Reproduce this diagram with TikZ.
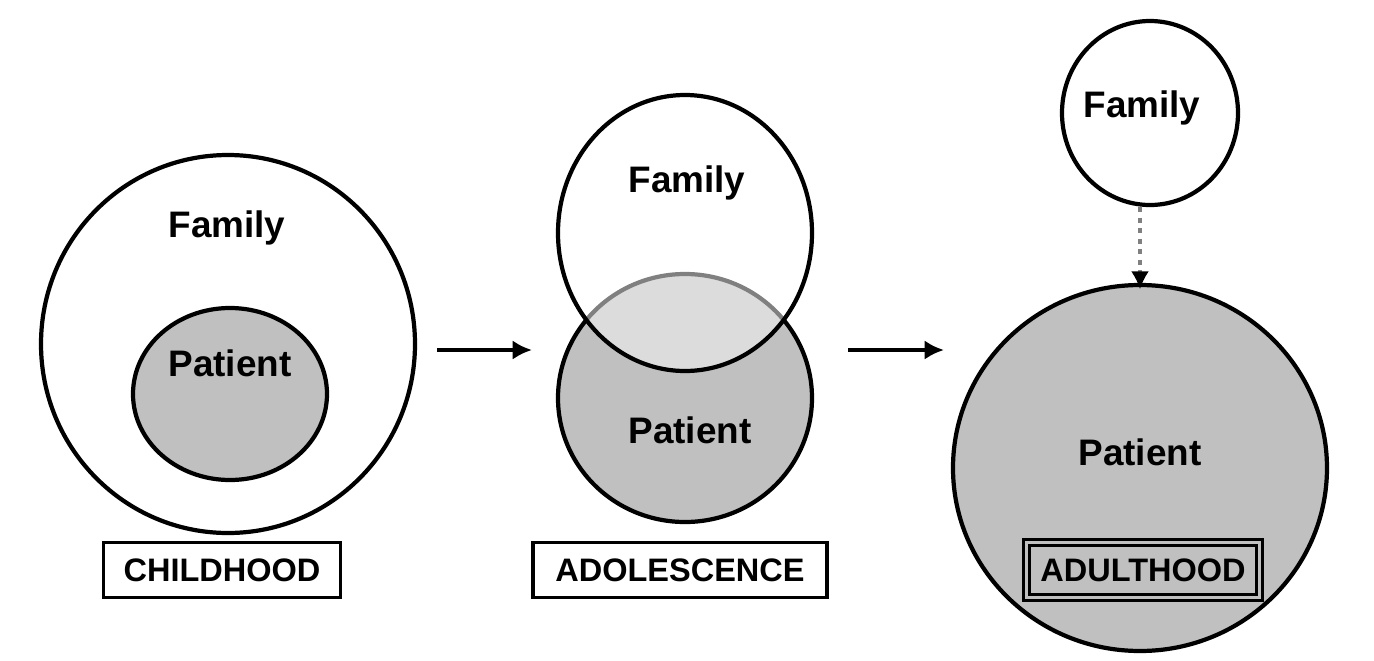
\documentclass[tikz,border=0pt]{standalone}
\usepackage{fontspec}
\setmainfont{Liberation Sans}
\usetikzlibrary{arrows.meta}
\definecolor{pgray}{HTML}{C0C0C0}
\definecolor{lgray}{HTML}{DCDCDC}
\definecolor{mgray}{HTML}{808080}
\tikzset{
  ring/.style={line width=2.4pt, draw=black},
  word/.style={font=\bfseries\fontsize{21}{24}\selectfont},
  stage/.style={draw=black, line width=1.8pt, minimum height=1.1cm, inner sep=0pt, font=\bfseries\fontsize{18.5}{22}\selectfont},
  conn/.style={line width=2.4pt, -{Latex[length=11pt,width=11pt]}},
}
\begin{document}
\begin{tikzpicture}[x=0.02cm,y=-0.02cm]
\useasboundingbox[fill=white] (0,0) rectangle (1374,660);
% Childhood
\draw[ring, fill=white] (228,344) ellipse [x radius=187, y radius=189];
\draw[ring, fill=pgray] (230,394) ellipse [x radius=97, y radius=86];
\node[word] (cfam) at (227,228) {Family};
\node[word] (cpat) at (230,363) {Patient};
\node[stage, minimum width=4.74cm] (child) at (222,570) {CHILDHOOD};
% Adolescence
\def\patA{(685,398) ellipse [x radius=127, y radius=124]}
\def\famA{(685,233) ellipse [x radius=127, y radius=138]}
\draw[ring, fill=pgray] \patA;
\fill[white] \famA;
\begin{scope}
  \clip \patA;
  \fill[lgray] \famA;
\end{scope}
\begin{scope}
  \clip \famA;
  \draw[line width=2.4pt, draw=mgray] \patA;
\end{scope}
\draw[ring] \famA;
\node[word] (afam) at (687,183) {Family};
\node[word] (apat) at (690,430) {Patient};
\node[stage, minimum width=5.88cm] (adol) at (680,570) {ADOLESCENCE};
% Adulthood
\draw[ring, fill=pgray] (1140,468) ellipse [x radius=187, y radius=183];
\draw[ring, fill=white] (1150,113) ellipse [x radius=88, y radius=92];
\node[word] (dfam) at (1142,108) {Family};
\node[word] (dpat) at (1140,452) {Patient};
\node[stage, minimum width=4.66cm, fill=pgray, draw=black, double=pgray, double distance=1.6pt, line width=1.5pt] (adult) at (1143,570) {ADULTHOOD};
% Connectors
\coordinate (a1s) at (437,350);
\coordinate (a1e) at (532,350);
\coordinate (a2s) at (848,350);
\coordinate (a2e) at (944,350);
\coordinate (dfs) at (1140,207);
\coordinate (dfm) at (1140,274);
\coordinate (dfe) at (1140,289);
\draw[conn] (a1s) -- (a1e);
\draw[conn] (a2s) -- (a2e);
\draw[line width=2.4pt, draw=mgray, dash pattern=on 3pt off 3pt] (dfs) -- (dfm);
\draw[line width=1pt, -{Latex[length=10pt,width=10pt]}] (dfm) -- (dfe);
\end{tikzpicture}
\end{document}
